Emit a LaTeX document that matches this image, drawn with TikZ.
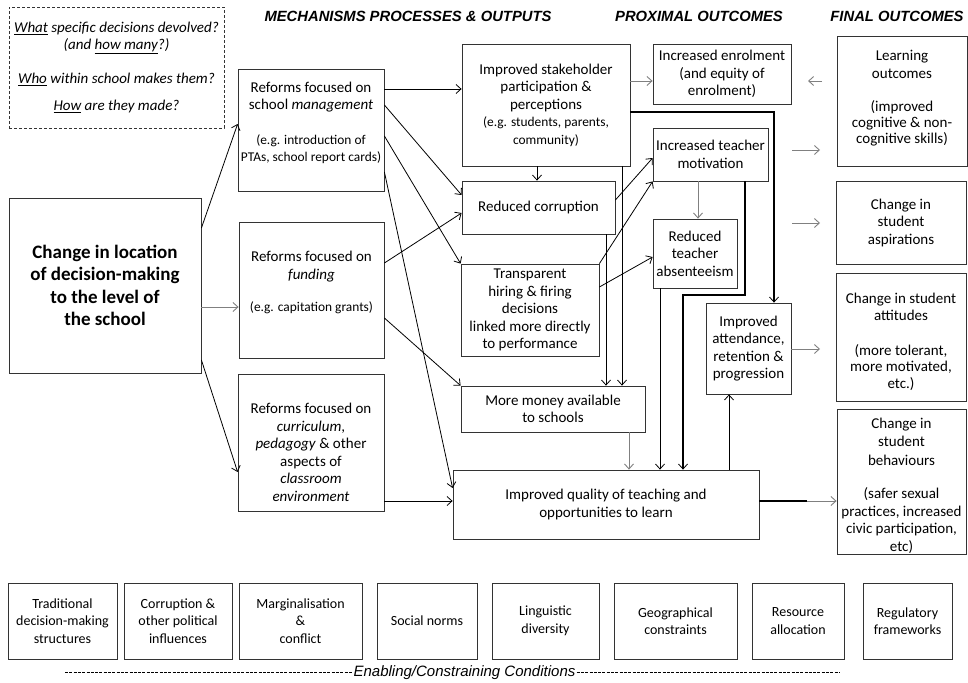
\documentclass[tikz,border=0pt]{standalone}
\usepackage{fontspec}
\setmainfont{Carlito}
\newfontfamily\arialfont{Liberation Sans}
\usetikzlibrary{arrows.meta,calc}
\def\sm{\fontsize{13.4}{16}\selectfont}
\def\hd{\arialfont\bfseries\itshape\fontsize{14.8}{17}\selectfont}
\tikzset{
	>={Straight Barb[length=5pt,width=9pt]},
	box/.style={draw=black!80, line width=0.8pt, inner sep=0pt, align=center, font=\fontsize{15}{17.5}\selectfont},
	cond/.style={box, font=\fontsize{14}{17.5}\selectfont, minimum height=76pt},
	head/.style={inner sep=0pt, font=\hd},
	link/.style={->, line width=0.8pt},
	greylink/.style={->, line width=0.9pt, color=black!50},
	heavy/.style={-{Straight Barb[length=5pt,width=9pt,line width=0.8pt]}, line width=1.8pt}
}

\begin{document}
\begin{tikzpicture}[x=1pt, y=-1pt]
			%%%%% START %%%%%
			\useasboundingbox (0,0) rectangle (968,682);
			
			\node[head] (mech) at (408,16) {MECHANISMS PROCESSES \& OUTPUTS};
			\node[head] (prox) at (699,16) {PROXIMAL OUTCOMES};
			\node[head] (final) at (897,16) {FINAL OUTCOMES};
			
			\node[box, dashed, dash pattern=on 3pt off 2pt, font=\itshape\fontsize{15}{17.5}\selectfont, minimum width=215pt, minimum height=121pt] (ask) at (116.5,67.5) {\underline{What} specific decisions devolved?\\(and \underline{how many}?)\\[16pt]\underline{Who} within school makes them?\\[10pt]\underline{How} are they made?};
			
			\node[box, font=\bfseries\fontsize{19}{22.5}\selectfont, minimum width=192pt, minimum height=175pt] (change) at (105,285.5) {Change in location\\of decision-making\\to the level of\\the school};
			
			\node[box, minimum width=146pt, minimum height=122pt] (mgmt) at (311,130) {Reforms focused on\\school \textit{management}\\[17pt]\sm (e.g. introduction of\\\sm PTAs, school report cards)\rule[-16pt]{0pt}{1pt}};
			\node[box, minimum width=145pt, minimum height=136pt] (fund) at (311.5,290) {Reforms focused on\\\textit{funding}\\[15pt]\sm (e.g. capitation grants)\rule[-17pt]{0pt}{1pt}};
			\node[box, minimum width=146pt, minimum height=137pt] (curr) at (311,442.5) {\rule{0pt}{30pt}Reforms focused on\\\textit{curriculum},\\\textit{pedagogy} \& other\\aspects of\\\textit{classroom}\\\textit{environment}};
			
			\node[box, minimum width=168pt, minimum height=122pt] (stake) at (546,105) {Improved stakeholder\\participation \&\\perceptions\\\sm (e.g. students, parents,\\\sm community)};
			\node[box, minimum width=153pt, minimum height=53pt] (corr) at (538.5,207.5) {Reduced corruption};
			\node[box, minimum width=138pt, minimum height=92pt] (hire) at (530,310) {Transparent\\hiring \& firing\\decisions\\linked more directly\\to performance};
			\node[box, minimum width=184pt, minimum height=46pt] (money) at (553,409) {More money available\\to schools};
			\node[box, minimum width=306pt, minimum height=69pt] (qual) at (606,504.5) {Improved quality of teaching and\\opportunities to learn};
			
			\node[box, minimum width=138pt, minimum height=60pt] (enrol) at (722,74) {Increased enrolment\\(and equity of\\enrolment)};
			\node[box, minimum width=115pt, minimum height=53pt] (mot) at (710.5,154.5) {Increased teacher\\motivation};
			\node[box, minimum width=84pt, minimum height=69pt] (abs) at (695,253.5) {Reduced\\teacher\\absenteeism};
			\node[box, minimum width=85pt, minimum height=91pt] (att) at (748.5,348.5) {Improved\\attendance,\\retention \&\\progression};
			
			\node[box, minimum width=130pt, minimum height=130pt] (learn) at (902,101) {\rule{0pt}{14pt}Learning\\outcomes\\[16pt](improved\\[-1.5pt]cognitive \& non-\\[-1.5pt]cognitive skills)\rule[-12pt]{0pt}{1pt}};
			\node[box, minimum width=130pt, minimum height=83pt] (asp) at (901,222.5) {Change in\\student\\aspirations};
			\node[box, minimum width=130pt, minimum height=128pt] (atti) at (901,337) {\rule{0pt}{20pt}Change in student\\attitudes\\[17pt](more tolerant,\\[-1pt]more motivated,\\[-1pt]etc.)};
			\node[box, minimum width=129pt, minimum height=145pt] (beh) at (901.5,481.5) {\rule{0pt}{19pt}Change in\\[1pt]student\\[1pt]behaviours\\[16pt](safer sexual\\practices, increased\\civic participation,\\etc)};
			
			% conditions row
			\node[cond, minimum width=109pt] (trad) at (62.5,621) {Traditional\\decision-making\\structures};
			\node[cond, minimum width=108pt] (polit) at (178,621) {Corruption \&\\other political\\influences};
			\node[cond, minimum width=123pt] (marg) at (300.5,621) {Marginalisation\\\&\\conflict};
			\node[cond, minimum width=100pt] (norms) at (427,621) {Social norms};
			\node[cond, minimum width=107pt] (ling) at (545.5,621) {Linguistic\\diversity};
			\node[cond, minimum width=123pt] (geo) at (675.5,621) {Geographical\\constraints};
			\node[cond, minimum width=92pt] (res) at (798,621) {Resource\\allocation};
			\node[cond, minimum width=89pt] (reg) at (907.5,621) {Regulatory\\frameworks};
			
			\node[inner sep=0pt, anchor=base, font=\arialfont\itshape\fontsize{15}{17}\selectfont] (enab) at (464.5,676.5) {Enabling/Constraining Conditions};
			\draw[line width=0.6pt, dash pattern=on 3pt off 1.3pt] (65,672.5) -- ([xshift=-1pt]enab.west |- 0,672.5);
			\draw[line width=0.6pt, dash pattern=on 3pt off 1.3pt] ([xshift=1pt]enab.east |- 0,672.5) -- (840,672.5);
			
			% from the change in location
			\draw[link] (change.east |- 0,228) -- (mgmt.west |- 0,124);
			\draw[greylink] (change.east |- 0,307) -- (fund.west |- 0,307);
			\draw[link] (change.east |- 0,360) -- (curr.west |- 0,472);
			
			% reforms
			\draw[link] (mgmt.east |- 0,89) -- (stake.west |- 0,89);
			\draw[link] (mgmt.east |- 0,105) -- (corr.west |- 0,195);
			\draw[link] (mgmt.east |- 0,136) -- (hire.north west);
			\draw[link] (mgmt.east |- 0,172) -- (qual.west |- 0,488);
			\draw[link] (fund.east |- 0,263) -- (corr.west |- 0,213);
			\draw[link] (fund.east |- 0,318) -- (money.north west);
			\draw[link] (curr.east |- 0,501) -- (qual.west |- 0,501);
			
			% mechanisms
			\draw[greylink] (stake.east |- 0,81) -- (enrol.west |- 0,81);
			\draw[link] (stake.south -| 537,0) -- (corr.north -| 537,0);
			\draw[heavy] (stake.east |- 0,112) -| (att.north -| 774,0);
			\draw[link] (stake.south -| 622,0) -- (money.north -| 622,0);
			\draw[link] (corr.south -| 606,0) -- (money.north -| 606,0);
			\draw[link] (corr.east |- 0,200) -- (mot.west |- 0,158);
			\draw[link] (hire.north east) -- (mot.south west);
			\draw[link] (hire.east |- 0,287) -- (abs.west |- 0,257);
			\draw[greylink] (mot.south -| 698,0) -- (abs.north -| 698,0);
			\coordinate (bend) at (683,295);
			\draw[heavy] (mot.south -| 745,0) |- (bend) -- (qual.north -| bend);
			\draw[link] (abs.south -| 660,0) -- (qual.north -| 660,0);
			\draw[greylink] (money.south -| 629,0) -- (qual.north -| 629,0);
			\draw[link] (qual.north -| 729,0) -- (att.south -| 729,0);
			
			% towards final outcomes
			\coordinate (split) at (807,501);
			\draw[line width=1.8pt] (qual.east |- split) -- (split);
			\draw[greylink] (split) -- (beh.west |- split);
			\coordinate (attend) at (820,349);
			\draw[greylink] (att.east |- attend) -- (attend);
			
			\coordinate (r1a) at (822,81);
			\coordinate (r1b) at (808,81);
			\draw[greylink] (r1a) -- (r1b);
			\coordinate (r2a) at (792,150);
			\coordinate (r2b) at (820,150);
			\draw[greylink] (r2a) -- (r2b);
			\coordinate (r3a) at (792,223);
			\coordinate (r3b) at (820,223);
			\draw[greylink] (r3a) -- (r3b);
			
			%%%%% END %%%%%
\end{tikzpicture}
\end{document}
